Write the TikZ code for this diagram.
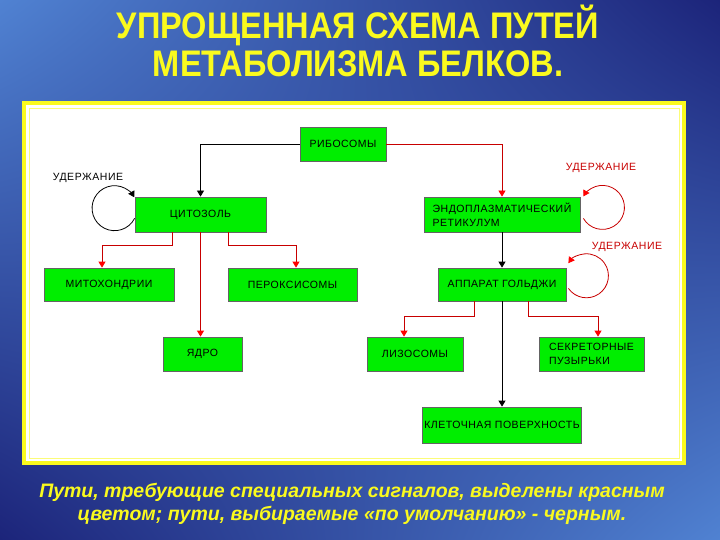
\documentclass[tikz,border=0pt]{standalone}
\usepackage{fontspec}
\setmainfont{Liberation Sans}
\newfontfamily\titlefont[FakeStretch=0.88]{Liberation Sans}
\newfontfamily\boxfont[LetterSpace=5]{Liberation Sans}
\usetikzlibrary{arrows.meta, shadings}

\definecolor{bgnavy}{RGB}{28,36,122}
\definecolor{bglight}{RGB}{80,130,210}
\definecolor{slideyellow}{RGB}{250,250,30}
\definecolor{boxgreen}{RGB}{0,238,0}
\definecolor{boxedge}{RGB}{100,100,100}
\definecolor{pathred}{RGB}{200,0,0}

\begin{document}
\begin{tikzpicture}[
    x=1pt, y=-1pt,
    organelle/.style={rectangle, draw=boxedge, fill=boxgreen, line width=0.8pt, inner sep=2pt, minimum height=34pt, align=left, font=\boxfont\fontsize{10.5}{14}\selectfont},
    keeplbl/.style={font=\boxfont\fontsize{10.5}{12}\selectfont},
    defaultarrow/.style={line width=0.8pt, black, -{Triangle[length=6pt,width=7pt]}},
    signalarrow/.style={line width=0.8pt, pathred, -{Triangle[length=6pt,width=7pt,color=red]}}
]

% Background and panel
\shade[upper left=bglight, upper right=bgnavy, lower left=bgnavy, lower right=bglight] (0,0) rectangle (720,540);
\useasboundingbox (0,0) rectangle (720,540);
\draw[slideyellow, line width=4pt, fill=white] (24,103) rectangle (684,463);
\draw[slideyellow!60, line width=0.8pt] (29,108) rectangle (679,458);

% Title
\node (title) [slideyellow, font=\titlefont\bfseries\fontsize{37}{38}\selectfont, align=center] at (358,41) {УПРОЩЕННАЯ СХЕМА ПУТЕЙ\\МЕТАБОЛИЗМА БЕЛКОВ.};

% Nodes
\node (ribo) [organelle, minimum width=86pt] at (343,144) {РИБОСОМЫ};
\node (cyto) [organelle, minimum width=131pt, minimum height=35pt] at (200.5,214.5) {ЦИТОЗОЛЬ};
\node (mito) [organelle, minimum width=130pt, minimum height=33pt] at (109,284.5) {МИТОХОНДРИИ};
\node (perox) [organelle, minimum width=129pt, minimum height=33pt] at (292.5,284.5) {ПЕРОКСИСОМЫ};
\node (nucl) [organelle, minimum width=79pt] at (202.5,354) {ЯДРО};
\node (er) [organelle, minimum width=156pt, minimum height=35pt] at (502,214.5) {ЭНДОПЛАЗМАТИЧЕСКИЙ\\РЕТИКУЛУМ};
\node (golgi) [organelle, minimum width=128pt, minimum height=33pt] at (502,284.5) {АППАРАТ ГОЛЬДЖИ};
\node (lyso) [organelle, minimum width=96pt] at (415,354) {ЛИЗОСОМЫ};
\node (secr) [organelle, minimum width=105pt] at (591.5,354) {СЕКРЕТОРНЫЕ\\ПУЗЫРЬКИ};
\node (surf) [organelle, minimum width=158pt, minimum height=36pt] at (502,425) {КЛЕТОЧНАЯ ПОВЕРХНОСТЬ};

% Retention labels
\node (keepcyto) [keeplbl] at (88,178) {УДЕРЖАНИЕ};
\node (keeper) [keeplbl, pathred] at (601,168) {УДЕРЖАНИЕ};
\node (keepgolgi) [keeplbl, pathred] at (627,247) {УДЕРЖАНИЕ};

% Connections
\draw [defaultarrow] (ribo.west) -| (cyto.north);
\draw [signalarrow] (ribo.east) -| (er.north);
\draw [defaultarrow] (er.south) -- (golgi.north);
\draw [signalarrow] ([xshift=-28.5]cyto.south) -- ++(0,13) -| ([xshift=-7]mito.north);
\draw [signalarrow] ([xshift=27.5]cyto.south) -- ++(0,13) -| ([xshift=3.5]perox.north);
\draw [signalarrow] (cyto.south) -- (cyto.south |- nucl.north);
\draw [signalarrow] ([xshift=-28]golgi.south) -- ++(0,15) -| ([xshift=-11]lyso.north);
\draw [signalarrow] ([xshift=26]golgi.south) -- ++(0,15) -| ([xshift=6.5]secr.north);
\draw [defaultarrow] (golgi.south) -- (surf.north);

% Retention loops
\draw [defaultarrow] (cyto.south west) ++(0,-14) arc[start angle=27, end angle=331, radius=22.5];
\draw [signalarrow] (er.south east) ++(3,-14) arc[start angle=150, end angle=-150, radius=22];
\draw [signalarrow] (golgi.south east) ++(2,-13) arc[start angle=145, end angle=-145, radius=22];

% Caption
\node (caption) [slideyellow, font=\bfseries\itshape\fontsize{19.5}{23}\selectfont, align=center] at (352,504) {Пути, требующие специальных сигналов, выделены красным\\цветом; пути, выбираемые «по умолчанию» - черным.};

\end{tikzpicture}
\end{document}
